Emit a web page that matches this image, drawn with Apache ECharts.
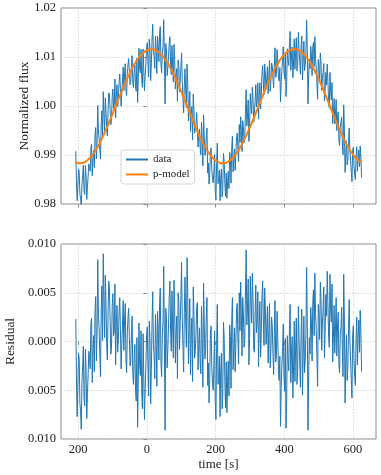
<!DOCTYPE html>
<html>
<head>
<meta charset="utf-8">
<script src="https://cdn.jsdelivr.net/npm/echarts@6/dist/echarts.min.js"></script>
<style>
html,body{margin:0;padding:0;background:#fff;}
#chart{width:381px;height:475px;}
</style>
</head>
<body>
<div id="chart"></div>
<script>
// sampling: first time stamp and cadence [s]
const tStart = -207;
const cadence = 2;

// p-model normalized flux at each sample
const pModel = [
0.98849,0.98843,0.98838,0.98835,0.98832,0.98831,0.98830,
0.98831,0.98832,0.98835,0.98838,0.98843,0.98849,0.98856,0.98864,0.98873,0.98883,0.98894,0.98906,0.98919,0.98933,0.98948,0.98963,0.98980,0.98998,0.99017,0.99036,0.99057,0.99078,0.99100,0.99123,0.99147,0.99171,0.99197,0.99222,0.99249,0.99276,0.99305,0.99333,0.99363,0.99392,0.99423,0.99454,0.99485,0.99517,0.99549,0.99582,0.99615,0.99648,0.99682,0.99716,0.99750,0.99785,0.99820,0.99855,0.99890,0.99925,0.99960,0.99995,1.00030,1.00065,1.00100,1.00135,1.00170,1.00205,1.00240,1.00274,1.00308,1.00342,1.00375,1.00408,1.00441,1.00473,1.00505,1.00536,1.00567,1.00598,1.00627,1.00657,1.00685,1.00714,1.00741,1.00768,1.00793,1.00819,1.00843,1.00867,1.00890,1.00912,1.00933,1.00954,1.00973,1.00992,1.01010,1.01027,1.01042,1.01057,1.01071,1.01084,1.01096,1.01107,1.01117,1.01126,1.01134,1.01141,1.01147,1.01152,1.01155,1.01158,1.01159,1.01160,
1.01159,1.01158,1.01155,1.01152,1.01147,1.01141,1.01134,1.01126,1.01117,1.01107,1.01096,1.01084,1.01071,1.01057,1.01042,1.01027,1.01010,1.00992,1.00973,1.00954,1.00933,1.00912,1.00890,1.00867,1.00843,1.00819,1.00793,1.00768,1.00741,1.00714,1.00685,1.00657,1.00627,1.00598,1.00567,1.00536,1.00505,1.00473,1.00441,1.00408,1.00375,1.00342,1.00308,1.00274,1.00240,1.00205,1.00170,1.00135,1.00100,1.00065,1.00030,0.99995,0.99960,0.99925,0.99890,0.99855,0.99820,0.99785,0.99750,0.99716,0.99682,0.99648,0.99615,0.99582,0.99549,0.99517,0.99485,0.99454,0.99423,0.99392,0.99363,0.99333,0.99305,0.99276,0.99249,0.99222,0.99197,0.99171,0.99147,0.99123,0.99100,0.99078,0.99057,0.99036,0.99017,0.98998,0.98980,0.98963,0.98948,0.98933,0.98919,0.98906,0.98894,0.98883,0.98873,0.98864,0.98856,0.98849,0.98843,0.98838,0.98835,0.98832,0.98831,0.98830,
0.98831,0.98832,0.98835,0.98838,0.98843,0.98849,0.98856,0.98864,0.98873,0.98883,0.98894,0.98906,0.98919,0.98933,0.98948,0.98963,0.98980,0.98998,0.99017,0.99036,0.99057,0.99078,0.99100,0.99123,0.99147,0.99171,0.99197,0.99222,0.99249,0.99276,0.99305,0.99333,0.99363,0.99392,0.99423,0.99454,0.99485,0.99517,0.99549,0.99582,0.99615,0.99648,0.99682,0.99716,0.99750,0.99785,0.99820,0.99855,0.99890,0.99925,0.99960,0.99995,1.00030,1.00065,1.00100,1.00135,1.00170,1.00205,1.00240,1.00274,1.00308,1.00342,1.00375,1.00408,1.00441,1.00473,1.00505,1.00536,1.00567,1.00598,1.00627,1.00657,1.00685,1.00714,1.00741,1.00768,1.00793,1.00819,1.00843,1.00867,1.00890,1.00912,1.00933,1.00954,1.00973,1.00992,1.01010,1.01027,1.01042,1.01057,1.01071,1.01084,1.01096,1.01107,1.01117,1.01126,1.01134,1.01141,1.01147,1.01152,1.01155,1.01158,1.01159,1.01160,
1.01159,1.01158,1.01155,1.01152,1.01147,1.01141,1.01134,1.01126,1.01117,1.01107,1.01096,1.01084,1.01071,1.01057,1.01042,1.01027,1.01010,1.00992,1.00973,1.00954,1.00933,1.00912,1.00890,1.00867,1.00843,1.00819,1.00793,1.00768,1.00741,1.00714,1.00685,1.00657,1.00627,1.00598,1.00567,1.00536,1.00505,1.00473,1.00441,1.00408,1.00375,1.00342,1.00308,1.00274,1.00240,1.00205,1.00170,1.00135,1.00100,1.00065,1.00030,0.99995,0.99960,0.99925,0.99890,0.99855,0.99820,0.99785,0.99750,0.99716,0.99682,0.99648,0.99615,0.99582,0.99549,0.99517,0.99485,0.99454,0.99423,0.99392,0.99363,0.99333,0.99305,0.99276,0.99249,0.99222,0.99197,0.99171,0.99147,0.99123,0.99100,0.99078,0.99057,0.99036,0.99017,0.98998,0.98980,0.98963,0.98948,0.98933,0.98919,0.98906,0.98894,0.98883,0.98873,0.98864,0.98856,0.98849
];

// residual (data - p-model), in units of 1e-3
const residualE3 = [
2.3,-3.9,-7.7,-4.6,-1.2,-1.8,-6.3,-7.1,-9.0,-4.2,-2.5,-0.5,-5.8,-6.6,-0.8,-2.9,-7.9,-5.3,-3.4,-1.0,
-1.5,-2.8,1.8,2.4,-4.2,-0.7,0.6,-3.1,3.1,4.6,-2.0,0.9,8.4,2.7,1.2,-1.4,-3.6,3.3,5.7,0.1,
9.0,4.1,0.4,6.8,3.8,-0.2,-1.9,2.9,6.2,5.4,2.1,-1.3,-0.7,3.6,4.9,0.6,1.0,5.9,-2.4,1.7,
3.7,-1.1,0.2,3.0,4.5,1.2,-2.8,-0.4,1.6,4.2,-0.9,2.2,3.9,-1.8,-3.2,0.9,2.4,3.4,0.5,-2.5,
-2.1,0.7,2.6,-3.3,-4.4,-1.6,-0.3,-5.0,-6.1,0.4,-8.8,-4.1,1.9,-2.4,-3.5,1.1,-5.2,-6.9,0.8,-3.7,
-8.0,-4.9,-2.7,0.6,1.5,-2.0,-5.6,2.1,0.3,-6.4,-3.0,1.8,5.1,-0.3,-1.4,-3.8,2.8,0.2,-4.6,3.1,
1.2,-1.9,3.9,5.5,-2.2,-3.6,0.7,2.0,7.7,-0.1,-9.1,3.4,2.5,-2.7,-0.8,1.6,4.6,6.2,1.3,-1.0,
5.2,1.5,-1.7,6.3,3.3,-2.2,0.9,2.6,-3.8,5.0,4.0,-0.8,1.8,4.7,8.1,2.5,-0.5,-3.1,3.0,6.6,
2.2,-0.6,8.6,4.9,-2.3,1.3,4.4,-3.4,0.6,2.4,-4.1,5.6,2.9,-1.7,-1.0,0.8,3.5,4.0,-2.9,-0.2,
1.4,-2.0,-3.3,3.6,0.2,-4.7,6.0,1.9,-1.8,-0.9,2.7,4.5,-4.5,-2.2,-6.3,-3.9,0.9,1.6,-2.6,-4.3,
-5.0,-2.6,1.1,-6.2,-8.0,-0.4,3.8,-4.4,-3.9,-1.5,-7.7,-3.0,-1.2,-6.9,-5.4,2.0,0.4,-4.1,-6.8,-2.1,
-7.3,-4.0,-2.0,-5.6,1.7,0.5,-4.8,2.2,4.5,-2.9,-0.6,1.4,-3.1,-0.2,3.2,3.9,0.3,-2.3,5.0,1.1,
6.1,3.0,-1.5,4.5,2.8,-0.6,0.1,5.2,9.4,1.7,3.6,6.4,-2.4,0.3,6.7,3.8,1.9,7.0,4.3,-0.8,
-1.1,2.7,5.8,0.9,2.0,5.1,-2.6,1.8,4.1,-1.6,0.8,4.7,6.2,2.3,-0.4,5.5,3.1,-0.3,1.5,3.6,
-2.2,1.0,3.9,-2.7,-0.9,2.5,1.7,-1.2,-3.4,0.8,4.2,-2.1,-1.6,3.1,0.5,-3.0,-4.0,-1.5,-8.7,-4.8,
-2.5,-0.9,1.8,-3.5,-5.1,0.3,-8.9,-6.0,0.6,-1.9,-3.0,1.2,3.8,-4.2,-1.3,0.5,-5.8,-2.6,2.1,-4.1,
-0.7,2.4,-4.4,-2.8,3.6,0.4,-2.2,-4.7,1.0,3.3,-5.5,-1.5,2.6,-3.2,-1.8,0.9,7.6,2.0,-9.1,-3.4,
0.4,-1.3,3.5,2.0,-2.0,4.1,5.3,0.6,7.0,2.9,1.2,-1.6,-4.6,3.8,2.7,0.2,6.1,4.4,-0.9,1.9,
3.4,5.6,-1.7,1.0,4.8,2.6,7.2,4.0,0.5,-0.6,6.9,3.3,2.0,5.9,-2.1,0.4,3.7,-1.2,1.1,4.5,
-1.5,1.7,3.0,-2.4,-3.2,0.8,1.4,3.5,-0.8,-3.6,6.9,2.2,-6.3,-2.0,0.7,-4.0,-2.7,1.3,4.3,0.0,
-1.9,-3.9,-5.8,0.7,1.6,-1.9,-3.6,-4.5,0.3,2.5,-2.4,0.4,2.2,-1.1,3.2,1.0,-3.1
];

// axis ticks and their printed labels (as they appear in the reference)
const xTicks = [-200, 0, 200, 400, 600];
const xTickLabels = ['200', '0', '200', '400', '600'];
const fluxTicks = [0.98, 0.99, 1.00, 1.01, 1.02];
const fluxTickLabels = ['0.98', '0.99', '1.00', '1.01', '1.02'];
const resTicks = [-0.010, -0.005, 0.000, 0.005, 0.010];
const resTickLabels = ['0.010', '0.005', '0.000', '0.005', '0.010'];

const time = pModel.map((_, i) => tStart + cadence * i);
const residual = residualE3.map(v => v * 1e-3);
const flux = pModel.map((m, i) => m + residual[i]);
const fluxData = time.map((t, i) => [t, flux[i]]);
const modelData = time.map((t, i) => [t, pModel[i]]);
const resData = time.map((t, i) => [t, residual[i]]);

function labelFor(ticks, labels) {
  return function (v) {
    let best = 0, bd = Infinity;
    ticks.forEach((t, i) => { const d = Math.abs(t - v); if (d < bd) { bd = d; best = i; } });
    return labels[best];
  };
}

const FONT = 'Liberation Serif';
const TXT = '#222';
const FRAME = '#8a8a8a';
const gridLine = { show: true, lineStyle: { color: '#cfcfcf', width: 0.8, type: [1.5, 1.5] } };
const tick = { show: true, inside: false, length: 3.5, lineStyle: { color: FRAME, width: 1 } };

const chart = echarts.init(document.getElementById('chart'), null, { renderer: 'canvas' });
chart.setOption({
  animation: false,
  backgroundColor: '#fff',
  textStyle: { fontFamily: FONT },
  grid: [
    { left: 61, top: 8, width: 315, height: 196, containLabel: false, outerBoundsMode: 'none', show: true, borderColor: FRAME, borderWidth: 1, backgroundColor: 'transparent' },
    { left: 61, top: 244, width: 315, height: 195, containLabel: false, outerBoundsMode: 'none', show: true, borderColor: FRAME, borderWidth: 1, backgroundColor: 'transparent' }
  ],
  legend: {
    orient: 'vertical', left: 121, top: 150,
    data: ['data', 'p-model'],
    backgroundColor: 'rgba(255,255,255,0.85)', borderColor: '#d4d4d4', borderWidth: 1, borderRadius: 3,
    padding: [4, 5, 4, 4], itemGap: 4, itemWidth: 22, itemHeight: 10,
    itemStyle: { opacity: 0 },
    textStyle: { fontFamily: FONT, fontSize: 11, color: TXT }
  },
  xAxis: [
    {
      gridIndex: 0, type: 'value', min: -250, max: 667,
      axisLine: { show: false },
      axisTick: Object.assign({ customValues: xTicks }, tick),
      axisLabel: { show: false, customValues: xTicks },
      splitLine: gridLine
    },
    {
      gridIndex: 1, type: 'value', min: -250, max: 667,
      name: 'time [s]', nameLocation: 'middle', nameGap: 19, nameMoveOverlap: false,
      nameTextStyle: { fontFamily: FONT, fontSize: 13, color: TXT },
      axisLine: { show: false },
      axisTick: Object.assign({ customValues: xTicks }, tick),
      axisLabel: { customValues: xTicks, margin: 4, fontFamily: FONT, fontSize: 12.5, color: TXT, formatter: labelFor(xTicks, xTickLabels) },
      splitLine: gridLine
    }
  ],
  yAxis: [
    {
      gridIndex: 0, type: 'value', min: 0.98, max: 1.02, interval: 0.01,
      name: 'Normalized flux', nameLocation: 'middle', nameGap: 30, nameMoveOverlap: false,
      nameTextStyle: { fontFamily: FONT, fontSize: 13.5, color: TXT },
      axisLine: { show: false }, axisTick: tick,
      axisLabel: { margin: 5, fontFamily: FONT, fontSize: 12.5, color: TXT, formatter: labelFor(fluxTicks, fluxTickLabels) },
      splitLine: gridLine
    },
    {
      gridIndex: 1, type: 'value', min: -0.01, max: 0.01, interval: 0.005,
      name: 'Residual', nameLocation: 'middle', nameGap: 44, nameMoveOverlap: false,
      nameTextStyle: { fontFamily: FONT, fontSize: 13.5, color: TXT },
      axisLine: { show: false }, axisTick: tick,
      axisLabel: { margin: 5, fontFamily: FONT, fontSize: 12.5, color: TXT, formatter: labelFor(resTicks, resTickLabels) },
      splitLine: gridLine
    }
  ],
  series: [
    {
      name: 'data', type: 'line', xAxisIndex: 0, yAxisIndex: 0, data: fluxData,
      symbol: 'none', lineStyle: { color: '#1f77b4', width: 1 }, itemStyle: { color: '#1f77b4' }, z: 2
    },
    {
      name: 'p-model', type: 'line', xAxisIndex: 0, yAxisIndex: 0, data: modelData,
      symbol: 'none', lineStyle: { color: '#ff7f0e', width: 2 }, itemStyle: { color: '#ff7f0e' }, z: 3
    },
    {
      name: 'residual', type: 'line', xAxisIndex: 1, yAxisIndex: 1, data: resData,
      symbol: 'none', lineStyle: { color: '#1f77b4', width: 1 }, itemStyle: { color: '#1f77b4' }, z: 2
    }
  ]
});
</script>
</body>
</html>
